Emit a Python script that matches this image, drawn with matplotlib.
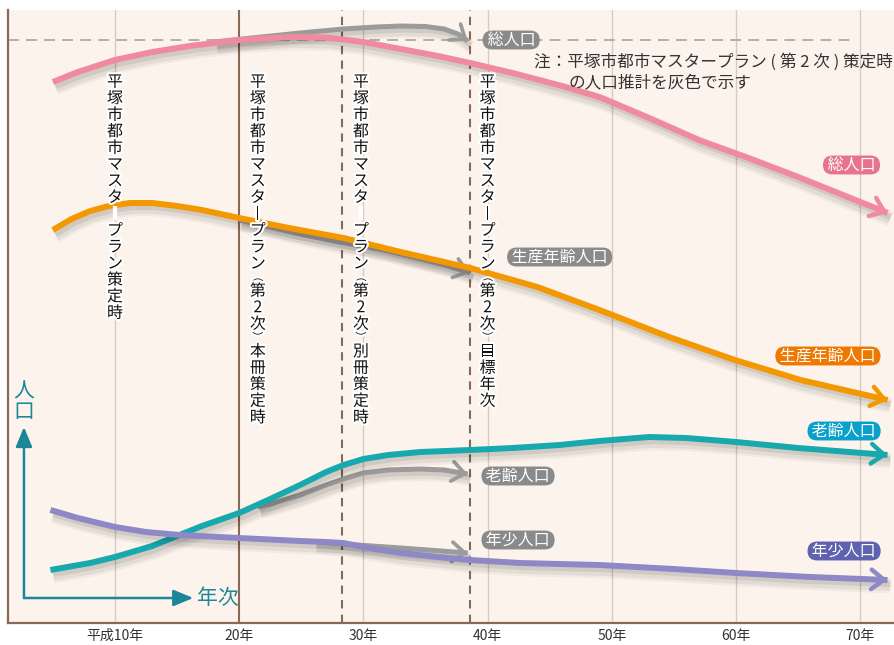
import matplotlib.pyplot as plt
import matplotlib.patheffects as pe

plt.rcParams['font.family'] = ['Noto Sans CJK JP', 'DejaVu Sans']

# 横軸: 平成の年次, 縦軸: 人口の相対値（目盛なしの模式図）
years_total = [5, 7, 10, 13, 16, 20, 24, 27, 30, 33, 36, 38.6, 42, 46, 49, 53, 57, 61, 65, 69, 72.2]
total = [541, 551, 563, 571, 577, 583, 586, 585.5, 581, 574, 567, 560, 550, 537, 526, 505, 483,
         465, 446, 426, 410]
years_work = [5, 6.5, 8, 9.5, 11.2, 13, 15, 17, 20, 24, 28.4, 33, 38.6, 44, 49, 54.6, 59.9, 65.2,
              72.2]
working = [393, 404, 412, 417, 420, 420, 417, 413, 405, 395, 385, 371, 355, 336, 313, 286, 263,
           243, 223]
years_old = [4.8, 8, 10, 13, 15, 17, 20, 22.5, 24.9, 27, 28.4, 30, 32, 34.6, 38.6, 42, 45.8, 49,
             53, 56, 60, 65, 72.2]
elderly = [53, 60, 66, 77, 87, 97, 110, 124, 138, 151, 158, 164, 168, 171, 173, 175, 178, 182,
           186, 185, 181, 175, 168]
years_young = [4.8, 7, 10, 12.5, 15.2, 20, 24.9, 27, 28.4, 30, 33, 36, 38.6, 42.6, 49, 55, 60,
               66, 72.2]
young = [113, 105, 96, 91, 88, 85, 82, 81, 80, 76, 70, 66, 63, 60, 58, 54, 50, 46, 43]

# 第2次マスタープラン策定時の推計（灰色）
old_years_total = [18, 21, 24.9, 28.4, 31, 33, 35, 36.5, 37.6, 38.4]
old_total = [581, 585, 590, 594, 596, 597, 596.5, 594, 589, 582]
old_years_work = [20, 22.5, 24.9, 28, 31.7, 34, 36.6, 38.6]
old_working = [403, 396, 389, 381, 373, 366, 358, 350]
old_years_old = [21.5, 22.5, 24.9, 27, 28.4, 30, 32, 34.6, 36.5, 38.4]
old_elderly = [116, 119, 128, 138, 144, 150, 153, 154, 153, 149]
old_years_young = [26, 28.4, 33, 38.4]
old_young = [81.5, 79, 75, 70]

tick_years = [10, 20, 30, 40, 50, 60, 70]
tick_labels = ['平成10年', '20年', '30年', '40年', '50年', '60年', '70年']

bg = '#FCF4EC'
brown = '#8A6858'
grid_c = '#D8CBBE'
gray_line = '#9B9B9B'
gray_label = '#8A8A8A'
axis_c = '#1C8799'

fig = plt.figure(figsize=(8.95, 6.45), dpi=100)
ax = fig.add_axes([8 / 895, 22 / 645, 887 / 895, 613 / 645])
ax.set_facecolor(bg)
ax.set_xlim(1.385, 72.8)
ax.set_ylim(0, 613)

for s in ['top', 'right']:
    ax.spines[s].set_visible(False)
for s in ['left', 'bottom']:
    ax.spines[s].set_color(brown)
    ax.spines[s].set_linewidth(1.6)
ax.set_yticks([])
ax.set_xticks(tick_years)
ax.set_xticklabels(tick_labels, fontsize=10, color='#333333')
ax.tick_params(axis='x', length=0, pad=4)

for yr in tick_years:
    if yr != 20:
        ax.axvline(yr, color=grid_c, lw=1, zorder=1)
ax.axvline(20, color=brown, lw=1.5, zorder=1)
ax.axvline(28.3, color=brown, lw=1.5, ls=(0, (4, 3)), zorder=1)
ax.axvline(38.6, color=brown, lw=1.5, ls=(0, (4, 3)), zorder=1)

ax.hlines(583, 1.385, 69.4, color='#AAAAAA', lw=1.3, ls=(0, (6, 4)), zorder=2)


def shadow(lw):
    return [pe.SimpleLineShadow(offset=(2, -4), shadow_color='k', alpha=0.04, linewidth=lw * 2.6),
            pe.SimpleLineShadow(offset=(2, -4), shadow_color='k', alpha=0.06, linewidth=lw * 1.8),
            pe.SimpleLineShadow(offset=(2, -3), shadow_color='k', alpha=0.08),
            pe.Normal()]


def arrow_line(xs, ys, color, lw, z):
    ax.plot(xs, ys, color=color, lw=lw, solid_capstyle='butt', solid_joinstyle='round',
            zorder=z, path_effects=shadow(lw))
    ax.annotate('', xy=(xs[-1], ys[-1]), xytext=(xs[-2], ys[-2]),
                arrowprops=dict(arrowstyle='->,head_length=0.45,head_width=0.35',
                                color=color, lw=lw * 0.75, shrinkA=0, shrinkB=0,
                                mutation_scale=20),
                zorder=z)


arrow_line(old_years_total, old_total, gray_line, 3.6, 3)
arrow_line(old_years_work, old_working, gray_line, 3.6, 3)
arrow_line(old_years_old, old_elderly, gray_line, 3.6, 3)
arrow_line(old_years_young, old_young, gray_line, 3.6, 3)

arrow_line(years_total, total, '#EF8A9F', 4.3, 4)
arrow_line(years_work, working, '#F39800', 4.3, 4)
arrow_line(years_old, elderly, '#17A9AE', 4.3, 4)
arrow_line(years_young, young, '#8E89C6', 4.3, 4)


def pill(x, y, s, color):
    ax.text(x, y, ' ' + s + ' ', ha='center', va='center', fontsize=11.5, color='white',
            zorder=7, bbox=dict(boxstyle='round,pad=0.06,rounding_size=0.6', fc=color, ec='none'))


pill(41.9, 583, '総人口', gray_label)
pill(45.8, 366, '生産年齢人口', gray_label)
pill(42.45, 147, '老齢人口', gray_label)
pill(42.45, 83, '年少人口', gray_label)
pill(69.3, 458, '総人口', '#E8738F')
pill(67.4, 267, '生産年齢人口', '#EE7800')
pill(68.7, 192, '老齢人口', '#0AA0CC')
pill(68.7, 72, '年少人口', '#5F62AE')

halo = [pe.withStroke(linewidth=3, foreground='white')]


def vtext(x, y_top, s):
    y = y_top
    for ch in s:
        small = ch in '︵︶'
        h = 11 if small else 16.5
        y -= h / 2
        ax.text(x, y, ch, ha='center', va='center', fontsize=8 if small else 11.5,
                color='#111111', zorder=6, path_effects=halo)
        y -= h / 2


vtext(10.0, 549, '平塚市都市マスタ︱プラン策定時')
vtext(21.5, 549, '平塚市都市マスタ︱プラン︵第2次︶本冊策定時')
vtext(29.8, 549, '平塚市都市マスタ︱プラン︵第2次︶別冊策定時')
vtext(40.0, 549, '平塚市都市マスタ︱プラン︵第2次︶目標年次')

ax.text(43.7, 561, '注：平塚市都市マスタープラン ( 第 2 次 ) 策定時', fontsize=12,
        color='#333333', va='center', ha='left', zorder=6)
ax.text(46.5, 540, 'の人口推計を灰色で示す', fontsize=12,
        color='#333333', va='center', ha='left', zorder=6)

# 模式図の軸
ax.annotate('', xy=(2.67, 196), xytext=(2.67, 25),
            arrowprops=dict(arrowstyle='-|>,head_length=0.6,head_width=0.25', color=axis_c,
                            lw=1.8, shrinkA=0, shrinkB=0, mutation_scale=20), zorder=5)
ax.annotate('', xy=(16.3, 25), xytext=(2.67, 25),
            arrowprops=dict(arrowstyle='-|>,head_length=0.6,head_width=0.25', color=axis_c,
                            lw=1.8, shrinkA=0, shrinkB=0, mutation_scale=20), zorder=5)
ax.text(16.6, 25, '年次', fontsize=15, color=axis_c, va='center', ha='left')
ax.text(2.67, 231, '人', fontsize=15, color=axis_c, va='center', ha='center')
ax.text(2.67, 211, '口', fontsize=15, color=axis_c, va='center', ha='center')

fig.savefig('out.png', dpi=100)
